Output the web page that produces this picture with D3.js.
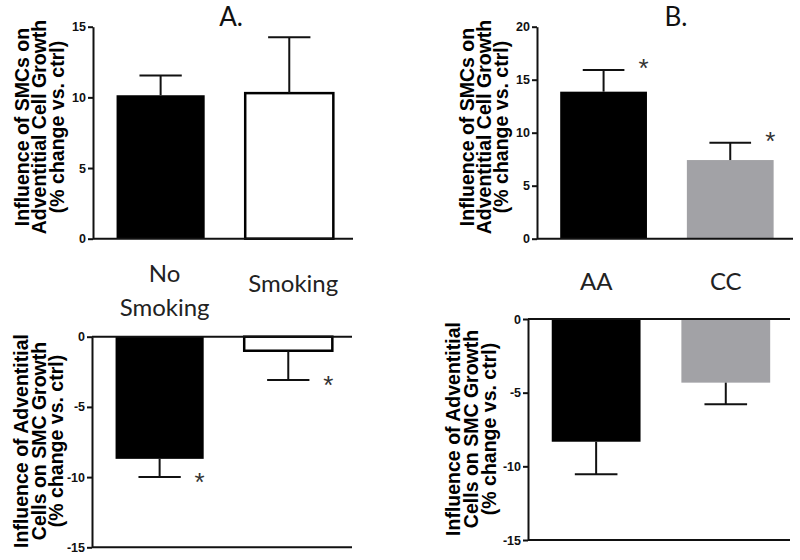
<!DOCTYPE html>
<html>
<head>
<meta charset="utf-8">
<script src="https://cdn.jsdelivr.net/npm/d3@7"></script>
<style>
body { margin: 0; background: #fff; }
svg { display: block; }
.tick text { font-family: "Liberation Sans", Arial, sans-serif; font-weight: bold; font-size: 12.5px; fill: #111; }
.ylab { font-family: "Liberation Sans", Arial, sans-serif; font-weight: bold; font-size: 19.5px; fill: #000; }
.cat { font-family: Lato, "Open Sans", sans-serif; font-size: 24px; fill: #222; }
.title { font-family: Lato, "Open Sans", sans-serif; font-size: 26px; fill: #111; }
.star { font-family: "Liberation Sans", Arial, sans-serif; font-size: 26px; fill: #333; }
</style>
</head>
<body>
<svg width="800" height="560"></svg>
<script>
// A. smoking status
var smokeGroups = ["No Smoking", "Smoking"];
var smokeLabels = [["No", "Smoking"], ["Smoking"]];
var smokeSmcOnAdv = [10.15, 10.3];
var smokeSmcOnAdvErr = [1.4, 3.95];
var smokeAdvOnSmc = [-8.7, -1.0];
var smokeAdvOnSmcErr = [1.3, 2.08];
var smokeStarsTop = [false, false];
var smokeStarsBottom = [true, true];

// B. genotype
var genoGroups = ["AA", "CC"];
var genoLabels = [["AA"], ["CC"]];
var genoSmcOnAdv = [13.87, 7.42];
var genoSmcOnAdvErr = [2.05, 1.64];
var genoAdvOnSmc = [-8.33, -4.32];
var genoAdvOnSmcErr = [2.21, 1.47];
var genoStarsTop = [true, true];
var genoStarsBottom = [false, false];

var topTicksA = [0, 5, 10, 15];
var topTicksB = [0, 5, 10, 15, 20];
var bottomTicks = [-15, -10, -5, 0];

var labelSmcOnAdv = ["Influence of SMCs on", "Adventitial Cell Growth", "(% change vs. ctrl)"];
var labelAdvOnSmc = ["Influence of Adventitial", "Cells on SMC Growth", "(% change vs. ctrl)"];

var svg = d3.select("svg");

function panel(o) {
  var x = d3.scaleBand()
      .domain(o.groups)
      .range(o.xr)
      .paddingInner(0.315)
      .paddingOuter(0.168)
      .align(0.545);
  var y = d3.scaleLinear()
      .domain(o.domain)
      .range(o.yr);

  var g = svg.append("g");
  var bw = x.bandwidth();

  g.selectAll(".bar")
    .data(o.values)
    .enter().append("rect")
      .attr("class", "bar")
      .attr("x", function(d, i) { return x(o.groups[i]); })
      .attr("y", function(d) { return y(Math.max(0, d)); })
      .attr("width", bw)
      .attr("height", function(d) { return Math.abs(y(d) - y(0)); })
      .attr("fill", function(d, i) { return o.fill[i]; })
      .attr("stroke", function(d, i) { return o.fill[i] == "#fff" ? "#000" : "none"; })
      .attr("stroke-width", 2.5);

  // error bars, one-sided away from zero
  var err = g.selectAll(".err")
    .data(o.values)
    .enter().append("g")
      .attr("class", "err")
      .attr("stroke", "#111")
      .attr("stroke-width", 2);
  err.append("line")
      .attr("x1", function(d, i) { return x(o.groups[i]) + bw / 2; })
      .attr("x2", function(d, i) { return x(o.groups[i]) + bw / 2; })
      .attr("y1", function(d) { return y(d); })
      .attr("y2", function(d, i) { return y(d + Math.sign(d) * o.err[i]); });
  err.append("line")
      .attr("x1", function(d, i) { return x(o.groups[i]) + bw / 2 - bw * 0.24; })
      .attr("x2", function(d, i) { return x(o.groups[i]) + bw / 2 + bw * 0.24; })
      .attr("y1", function(d, i) { return y(d + Math.sign(d) * o.err[i]); })
      .attr("y2", function(d, i) { return y(d + Math.sign(d) * o.err[i]); });

  g.selectAll(".star")
    .data(o.values)
    .enter().filter(function(d, i) { return o.stars[i]; })
    .append("text")
      .attr("class", "star")
      .attr("text-anchor", "middle")
      .attr("x", function(d, i) { return x(o.groups[i]) + bw / 2 + 40; })
      .attr("y", function(d, i) { return y(d + Math.sign(d) * o.err[i]) + o.starDy; })
      .text("*");

  // axes
  var ax = g.append("g")
      .attr("transform", "translate(" + o.xr[0] + ",0)")
      .call(d3.axisLeft(y).tickValues(o.ticks).tickSize(5).tickSizeOuter(0).tickPadding(2)
        .tickFormat(function(d) { return String(d); }));
  ax.selectAll("path, line").attr("stroke", "#111").attr("stroke-width", 2);

  o.lines.forEach(function(v) {
    g.append("line")
        .attr("x1", o.xr[0])
        .attr("x2", o.xr[1])
        .attr("y1", y(v))
        .attr("y2", y(v))
        .attr("stroke", "#111")
        .attr("stroke-width", 2);
  });

  // y label, three rotated lines
  var t = g.append("text")
      .attr("class", "ylab")
      .attr("text-anchor", "middle")
      .attr("transform", "translate(" + o.labX + "," + o.labY + ") rotate(-90)");
  o.label.forEach(function(s, i) {
    t.append("tspan").attr("x", 0).attr("dy", i == 0 ? 0 : o.labGap).text(s);
  });

  return x;
}

function catLabels(x, groups, lines, dx, base) {
  groups.forEach(function(c, i) {
    var ls = lines[i];
    ls.forEach(function(s, j) {
      svg.append("text")
          .attr("class", "cat")
          .attr("text-anchor", "middle")
          .attr("x", x(c) + x.bandwidth() / 2 + dx)
          .attr("y", base - (ls.length - 1) * 10 + j * 34)
          .text(s);
    });
  });
}

panel({groups: smokeGroups, values: smokeSmcOnAdv, err: smokeSmcOnAdvErr, fill: ["#000", "#fff"],
  stars: smokeStarsTop, starDy: 7, domain: [0, 15], ticks: topTicksA, lines: [0],
  xr: [93, 353], yr: [238.7, 26.7], label: labelSmcOnAdv, labX: 28.5, labY: 127, labGap: 17.5});

panel({groups: genoGroups, values: genoSmcOnAdv, err: genoSmcOnAdvErr, fill: ["#000", "#a2a2a6"],
  stars: genoStarsTop, starDy: 7, domain: [0, 20], ticks: topTicksB, lines: [0],
  xr: [537, 793], yr: [238.7, 26.7], label: labelSmcOnAdv, labX: 473.5, labY: 127, labGap: 17});

var xA = panel({groups: smokeGroups, values: smokeAdvOnSmc, err: smokeAdvOnSmcErr, fill: ["#000", "#fff"],
  stars: smokeStarsBottom, starDy: 14, domain: [-15, 0], ticks: bottomTicks, lines: [0, -15],
  xr: [92, 352], yr: [547.3, 336.7], label: labelAdvOnSmc, labX: 28, labY: 441, labGap: 17.5});

var xB = panel({groups: genoGroups, values: genoAdvOnSmc, err: genoAdvOnSmcErr, fill: ["#000", "#a2a2a6"],
  stars: genoStarsBottom, starDy: 14, domain: [-15, 0], ticks: bottomTicks, lines: [0, -15],
  xr: [528, 790], yr: [540, 319], label: labelAdvOnSmc, labX: 460, labY: 429, labGap: 18});

catLabels(xA, smokeGroups, smokeLabels, 5, 291.7);
catLabels(xB, genoGroups, genoLabels, 0, 290);

svg.append("text").attr("class", "title").attr("text-anchor", "middle")
    .attr("x", 231).attr("y", 26).text("A.");
svg.append("text").attr("class", "title").attr("text-anchor", "middle")
    .attr("x", 676).attr("y", 26).text("B.");
</script>
</body>
</html>
